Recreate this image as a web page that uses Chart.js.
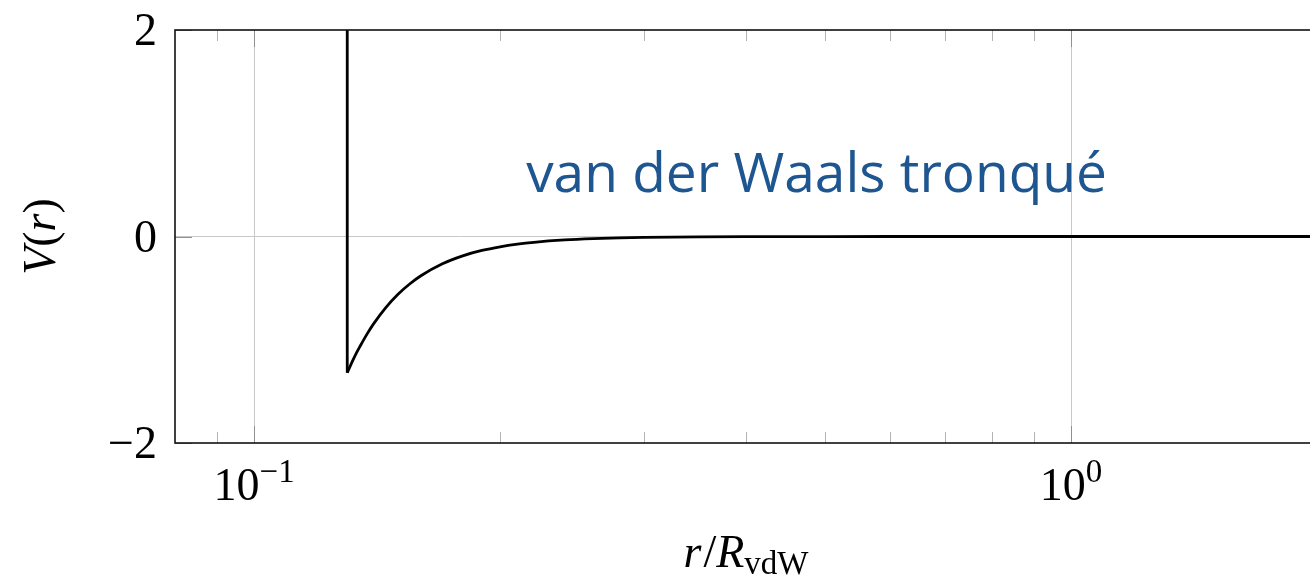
<!DOCTYPE html>
<html>
<head>
<meta charset="utf-8">
<script src="https://cdn.jsdelivr.net/npm/chart.js@4/dist/chart.umd.min.js"></script>
<style>
  html, body { margin: 0; padding: 0; background: #fff; overflow: hidden; }
  #wrap { width: 1320px; height: 579px; }
</style>
</head>
<body>
<div id="wrap"><canvas id="chart" width="1320" height="579"></canvas></div>
<script>
// potentiel de van der Waals tronqué, r en unités de R_vdW
// le mur (coeur dur) est à r = 0.13
var wallR = [0.13, 0.13];
var wallV = [2, -1.32];
var rValues = [0.13, 0.1315, 0.133, 0.135, 0.1375, 0.14, 0.145, 0.15, 0.155, 0.16, 0.17, 0.18, 0.19, 0.2,
               0.21, 0.22, 0.24, 0.26, 0.28, 0.3, 0.35, 0.4, 0.5, 0.6, 0.8, 1, 1.5, 2];
var vValues = [-1.32, -1.231, -1.148, -1.053, -0.943, -0.846, -0.686, -0.559, -0.46, -0.38, -0.264, -0.187, -0.135, -0.0996,
               -0.0743, -0.0562, -0.0333, -0.0206, -0.0132, -0.0087, -0.0035, -0.0016, -0.0004, -0.0001, 0, 0, 0, 0];

var xMajorTicks = [0.1, 1];
var xMinorTicks = [0.09, 0.2, 0.3, 0.4, 0.5, 0.6, 0.7, 0.8, 0.9];
var xTickLabels = [['10', '\u22121'], ['10', '0']];
var yTicks = [-2, 0, 2];
var yTickLabels = ['\u22122', '0', '2'];

var titre = 'van der Waals tronqué';
var titrePos = { r: 0.488, v: 0.43 };

var serif = '"Liberation Serif", "DejaVu Serif", serif';

function toPoints(xs, ys) {
  return xs.map(function (r, i) { return { x: r, y: ys[i] }; });
}

var axesPlugin = {
  id: 'axesPgf',
  afterDraw: function (chart) {
    var ctx = chart.ctx;
    var a = chart.chartArea;
    var xs = chart.scales.x, ys = chart.scales.y;
    ctx.save();

    // petites graduations à l'intérieur du cadre
    ctx.lineWidth = 1;
    ctx.strokeStyle = '#b4b4b4';
    xMinorTicks.forEach(function (v) {
      var px = Math.round(xs.getPixelForValue(v)) + 0.5;
      ctx.beginPath();
      ctx.moveTo(px, a.bottom); ctx.lineTo(px, a.bottom - 11);
      ctx.moveTo(px, a.top); ctx.lineTo(px, a.top + 11);
      ctx.stroke();
    });
    ctx.strokeStyle = '#909090';
    xMajorTicks.forEach(function (v) {
      var px = Math.round(xs.getPixelForValue(v)) + 0.5;
      ctx.beginPath();
      ctx.moveTo(px, a.bottom); ctx.lineTo(px, a.bottom - 17);
      ctx.moveTo(px, a.top); ctx.lineTo(px, a.top + 17);
      ctx.stroke();
    });
    yTicks.forEach(function (v) {
      var py = Math.round(ys.getPixelForValue(v)) + 0.5;
      ctx.beginPath();
      ctx.moveTo(a.left, py); ctx.lineTo(a.left + 17, py);
      ctx.stroke();
    });

    // cadre
    ctx.strokeStyle = '#111';
    ctx.lineWidth = 1.6;
    ctx.strokeRect(a.left, a.top, a.right - a.left, a.bottom - a.top);

    // étiquettes de l'axe x : 10^n
    ctx.fillStyle = '#000';
    ctx.textBaseline = 'alphabetic';
    ctx.textAlign = 'left';
    xMajorTicks.forEach(function (v, i) {
      var base = xTickLabels[i][0], exp = xTickLabels[i][1];
      ctx.font = '46px ' + serif;
      var wb = ctx.measureText(base).width;
      ctx.font = '33px ' + serif;
      var we = ctx.measureText(exp).width;
      var x0 = xs.getPixelForValue(v) - (wb + we) / 2;
      ctx.font = '46px ' + serif;
      ctx.fillText(base, x0, a.bottom + 57);
      ctx.font = '33px ' + serif;
      ctx.fillText(exp, x0 + wb, a.bottom + 39);
    });

    // étiquettes de l'axe y
    ctx.font = '46px ' + serif;
    ctx.textAlign = 'right';
    yTicks.forEach(function (v, i) {
      ctx.fillText(yTickLabels[i], a.left - 18, ys.getPixelForValue(v) + 15);
    });

    // titre de l'axe x : r/R_vdW
    var parts = [
      { t: 'r', f: 'italic 46px ' + serif, dy: 0 },
      { t: '/', f: '46px ' + serif, dy: 0 },
      { t: 'R', f: 'italic 46px ' + serif, dy: 0 },
      { t: 'vdW', f: '33px ' + serif, dy: 7 }
    ];
    var total = 0;
    parts.forEach(function (p) { ctx.font = p.f; p.w = ctx.measureText(p.t).width; total += p.w; });
    var cx = 745 - total / 2;
    ctx.textAlign = 'left';
    parts.forEach(function (p) {
      ctx.font = p.f;
      ctx.fillText(p.t, cx, 567 + p.dy);
      cx += p.w + (p.t === 'r' ? 2 : 0);
    });

    // titre de l'axe y : V(r)
    ctx.translate(55, (a.top + a.bottom) / 2);
    ctx.rotate(-Math.PI / 2);
    var yParts = [
      { t: 'V', f: 'italic 46px ' + serif },
      { t: '(', f: '46px ' + serif },
      { t: 'r', f: 'italic 46px ' + serif },
      { t: ')', f: '46px ' + serif }
    ];
    var tw = 0;
    yParts.forEach(function (p) { ctx.font = p.f; p.w = ctx.measureText(p.t).width; tw += p.w; });
    var yx = -tw / 2;
    yParts.forEach(function (p) { ctx.font = p.f; ctx.fillText(p.t, yx, 0); yx += p.w; });
    ctx.setTransform(1, 0, 0, 1, 0, 0);

    // annotation
    ctx.font = '55px "Open Sans", "Noto Sans", sans-serif';
    ctx.fillStyle = '#1d5690';
    ctx.textAlign = 'center';
    ctx.fillText(titre, xs.getPixelForValue(titrePos.r), ys.getPixelForValue(titrePos.v));
    ctx.restore();
  }
};

new Chart(document.getElementById('chart'), {
  type: 'line',
  data: {
    datasets: [{
      data: toPoints(wallR, wallV),
      borderColor: '#000',
      borderWidth: 2.8,
      pointRadius: 0,
      tension: 0,
      fill: false
    }, {
      data: toPoints(rValues, vValues),
      borderColor: '#000',
      borderWidth: 2.8,
      pointRadius: 0,
      cubicInterpolationMode: 'monotone',
      fill: false
    }]
  },
  options: {
    responsive: false,
    animation: false,
    layout: { padding: { top: 30, right: 3, left: 0, bottom: 0 } },
    plugins: { legend: { display: false }, tooltip: { enabled: false } },
    scales: {
      x: {
        type: 'logarithmic',
        min: 0.08,
        max: 2,
        afterBuildTicks: function (scale) {
          scale.ticks = xMinorTicks.concat(xMajorTicks).sort(function (a, b) { return a - b; })
            .map(function (v) { return { value: v }; });
        },
        afterFit: function (scale) { scale.height = 136; },
        ticks: { display: false },
        border: { display: false },
        grid: {
          drawTicks: false,
          lineWidth: 1,
          color: function (c) {
            return c.tick && xMajorTicks.indexOf(c.tick.value) >= 0 ? '#c8c8c8' : 'rgba(0,0,0,0)';
          }
        }
      },
      y: {
        min: -2,
        max: 2,
        afterBuildTicks: function (scale) {
          scale.ticks = yTicks.map(function (v) { return { value: v }; });
        },
        afterFit: function (scale) { scale.width = 175; },
        ticks: { display: false },
        border: { display: false },
        grid: {
          drawTicks: false,
          lineWidth: 1,
          color: function (c) {
            return c.tick && c.tick.value === 0 ? '#c8c8c8' : 'rgba(0,0,0,0)';
          }
        }
      }
    }
  },
  plugins: [axesPlugin]
});
</script>
</body>
</html>
